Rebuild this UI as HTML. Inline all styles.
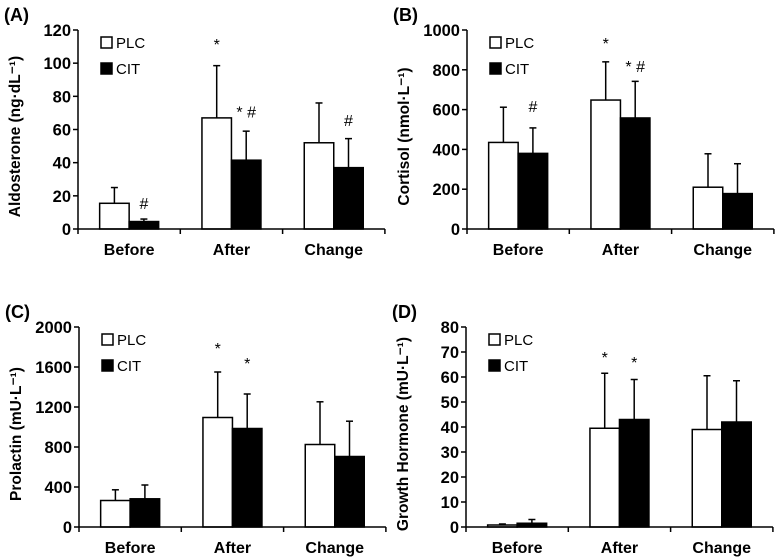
<!DOCTYPE html>
<html><head><meta charset="utf-8"><style>
html,body{margin:0;padding:0;background:#fff;}
svg{display:block;font-family:"Liberation Sans",sans-serif;}
</style></head><body>
<svg id="fig" width="781" height="559" viewBox="0 0 781 559" xmlns="http://www.w3.org/2000/svg"></svg>
<script>
const categories = ["Before", "After", "Change"];
const aPlc = [15.5, 67, 52];
const aPlcErr = [25, 98.5, 76];
const aCit = [4.5, 41.5, 37];
const aCitErr = [6, 59, 54.5];
const aTicks = [0, 20, 40, 60, 80, 100, 120];
const bPlc = [435, 648, 210];
const bPlcErr = [612, 840, 378];
const bCit = [380, 558, 178];
const bCitErr = [508, 742, 328];
const bTicks = [0, 200, 400, 600, 800, 1000];
const cPlc = [265, 1095, 825];
const cPlcErr = [372, 1550, 1252];
const cCit = [282, 985, 705];
const cCitErr = [420, 1330, 1058];
const cTicks = [0, 400, 800, 1200, 1600, 2000];
const dPlc = [0.8, 39.5, 39];
const dPlcErr = [1.2, 61.5, 60.5];
const dCit = [1.5, 43, 42];
const dCitErr = [3, 59, 58.5];
const dTicks = [0, 10, 20, 30, 40, 50, 60, 70, 80];

const NS = "http://www.w3.org/2000/svg";
const svg = document.getElementById("fig");
function mk(tag, attrs, parent, text) {
  const e = document.createElementNS(NS, tag);
  for (const k in attrs) e.setAttribute(k, attrs[k]);
  if (text !== undefined) e.textContent = text;
  parent.appendChild(e);
  return e;
}
const panels = [
  {id:"a", label:"(A)", title:"Aldosterone (ng·dL⁻¹)", x0:78, top:30, bot:229, plc:aPlc, plcE:aPlcErr, cit:aCit, citE:aCitErr, ticks:aTicks,
   ann:[[0,1,"#",15.7],[1,0,"*",111.5],[1,1,"* #",71],[2,1,"#",65.7]]},
  {id:"b", label:"(B)", title:"Cortisol (nmol·L⁻¹)", x0:467, top:30, bot:229, plc:bPlc, plcE:bPlcErr, cit:bCit, citE:bCitErr, ticks:bTicks,
   ann:[[0,1,"#",618],[1,0,"*",935],[1,1,"* #",819]]},
  {id:"c", label:"(C)", title:"Prolactin (mU·L⁻¹)", x0:79, top:327, bot:527, plc:cPlc, plcE:cPlcErr, cit:cCit, citE:cCitErr, ticks:cTicks,
   ann:[[1,0,"*",1790],[1,1,"*",1640]]},
  {id:"d", label:"(D)", title:"Growth Hormone (mU·L⁻¹)", x0:466, top:327, bot:527, plc:dPlc, plcE:dPlcErr, cit:dCit, citE:dCitErr, ticks:dTicks,
   ann:[[1,0,"*",68],[1,1,"*",66]]}
];
panels.forEach(p => {
  const g = mk("g", {}, svg);
  
  
  const max = p.ticks[p.ticks.length - 1];
  const y = v => p.bot - (v / max) * (p.bot - p.top);
  const cw = 102.3;
  const bw = 29.5;
  const cx = i => p.x0 + cw * i + cw / 2;
  const lbl = mk("text", {x: p.x0 - 74, y: p.top - 9, "font-size": 18, "font-weight": "bold"}, g, p.label);
  
  
  const yt = mk("text", {x: 0, y: 0, "font-size": 15.5, "font-weight": "bold", "text-anchor": "middle",
    transform: `translate(${p.x0 - 58},${(p.top + p.bot) / 2 + 7}) rotate(-90)`}, g, p.title);
  
  
  p.ticks.forEach(t => {
    mk("line", {x1: p.x0 - 5, x2: p.x0, y1: y(t), y2: y(t), stroke: "#000", "stroke-width": 1.5}, g);
    const tl = mk("text", {x: p.x0 - 7, y: y(t) + 6, "font-size": 16.5, "font-weight": "bold", "text-anchor": "end"}, g, t);
    
    
  });
  categories.forEach((c, i) => {
    const sets = [[p.plc, p.plcE, "#fff", "plc"], [p.cit, p.citE, "#000", "cit"]];
    sets.forEach((s, k) => {
      const bx = cx(i) - bw + k * bw;
      const ex = bx + bw / 2;
      mk("line", {x1: ex, x2: ex, y1: y(s[1][i]), y2: y(s[0][i]), stroke: "#000", "stroke-width": 1.5}, g);
      mk("line", {x1: ex - 3.5, x2: ex + 3.5, y1: y(s[1][i]), y2: y(s[1][i]), stroke: "#000", "stroke-width": 1.5}, g);
      const r = mk("rect", {x: bx, y: y(s[0][i]), width: bw, height: p.bot - y(s[0][i]), fill: s[2], stroke: "#000", "stroke-width": 1.5}, g);
      
      
    });
    const xl = mk("text", {x: cx(i), y: p.bot + 26, "font-size": 16, "font-weight": "bold", "text-anchor": "middle"}, g, c);
    
    
  });
  mk("line", {x1: p.x0, x2: p.x0, y1: p.top, y2: p.bot, stroke: "#000", "stroke-width": 1.5}, g);
  mk("line", {x1: p.x0, x2: p.x0 + cw * 3, y1: p.bot, y2: p.bot, stroke: "#000", "stroke-width": 1.5}, g);
  for (let i = 0; i <= 3; i++) mk("line", {x1: p.x0 + cw * i, x2: p.x0 + cw * i, y1: p.bot, y2: p.bot + 5, stroke: "#000", "stroke-width": 1.5}, g);
  p.ann.forEach(a => {
    const ax = cx(a[0]) - bw / 2 + a[1] * bw;
    const at = mk("text", {x: ax, y: y(a[3]) + 6, "font-size": 16, "text-anchor": "middle"}, g, a[2]);
    
    
  });
  [["PLC", "#fff", 0], ["CIT", "#000", 26]].forEach(L => {
    const lg = mk("g", {}, g);
    
    
    mk("rect", {x: p.x0 + 23, y: p.top + 7 + L[2], width: 11, height: 11, fill: L[1], stroke: "#000", "stroke-width": 1.5}, lg);
    mk("text", {x: p.x0 + 38, y: p.top + 18 + L[2], "font-size": 15}, lg, L[0]);
  });
});
</script>
</body></html>
